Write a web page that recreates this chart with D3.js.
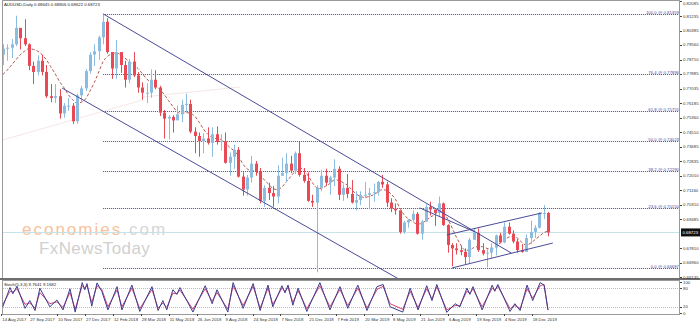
<!DOCTYPE html>
<html>
<head>
<meta charset="utf-8">
<script src="https://cdn.jsdelivr.net/npm/d3@7"></script>
<style>
  body { margin: 0; background: #fff; }
  svg { display: block; font-family: "Liberation Sans", Arial, sans-serif; }
</style>
</head>
<body>
<svg id="chart" width="700" height="326"></svg>
<script>
const firstOpen = 0.7900;
const weekHigh = [
  0.7960, 0.7960, 0.7990, 0.8125, 0.8035, 0.8105, 0.7965, 0.7860, 0.7895, 0.7900,
  0.7840, 0.7730, 0.7730, 0.7700, 0.7620, 0.7650, 0.7620, 0.7675, 0.7720, 0.7815,
  0.7915, 0.7960, 0.8010, 0.8135, 0.8110, 0.7915, 0.7985, 0.7915, 0.7865, 0.7875,
  0.7915, 0.7800, 0.7740, 0.7735, 0.7815, 0.7810, 0.7720, 0.7580, 0.7550, 0.7550,
  0.7605, 0.7640, 0.7675, 0.7640, 0.7480, 0.7450, 0.7445, 0.7480, 0.7480, 0.7485,
  0.7440, 0.7450, 0.7335, 0.7380, 0.7365, 0.7220, 0.7205, 0.7315, 0.7285, 0.7245,
  0.7145, 0.7160, 0.7140, 0.7260, 0.7305, 0.7330, 0.7315, 0.7340, 0.7395, 0.7245,
  0.7220, 0.7090, 0.7145, 0.7235, 0.7240, 0.7200, 0.7295, 0.7255, 0.7150, 0.7210,
  0.7175, 0.7110, 0.7110, 0.7165, 0.7130, 0.7155, 0.7170, 0.7205, 0.7165, 0.7070,
  0.7040, 0.6985, 0.6940, 0.6950, 0.7000, 0.6990, 0.6945, 0.7035, 0.7050, 0.7000,
  0.7080, 0.7045, 0.6920, 0.6810, 0.6810, 0.6795, 0.6780, 0.6840, 0.6895, 0.6895,
  0.6810, 0.6775, 0.6810, 0.6860, 0.6870, 0.6930, 0.6930, 0.6885, 0.6835, 0.6805,
  0.6860, 0.6940, 0.6915, 0.6990, 0.7030, 0.6990
];
const weekLow = [
  0.7840, 0.7865, 0.7880, 0.7950, 0.7930, 0.7950, 0.7810, 0.7730, 0.7780, 0.7780,
  0.7650, 0.7625, 0.7620, 0.7530, 0.7535, 0.7575, 0.7500, 0.7500, 0.7630, 0.7690,
  0.7790, 0.7835, 0.7870, 0.7960, 0.7905, 0.7760, 0.7760, 0.7795, 0.7710, 0.7735,
  0.7770, 0.7680, 0.7640, 0.7620, 0.7650, 0.7700, 0.7545, 0.7415, 0.7410, 0.7450,
  0.7530, 0.7510, 0.7570, 0.7445, 0.7330, 0.7310, 0.7330, 0.7380, 0.7310, 0.7380,
  0.7345, 0.7270, 0.7200, 0.7240, 0.7190, 0.7085, 0.7085, 0.7160, 0.7200, 0.7040,
  0.7020, 0.7060, 0.7020, 0.7040, 0.7200, 0.7165, 0.7215, 0.7210, 0.7195, 0.7160,
  0.7050, 0.7020, 0.6642, 0.7110, 0.7140, 0.7090, 0.7140, 0.7060, 0.7055, 0.7070,
  0.7040, 0.7000, 0.7030, 0.7070, 0.7005, 0.7050, 0.7085, 0.7130, 0.7020, 0.6990,
  0.6975, 0.6865, 0.6865, 0.6900, 0.6935, 0.6860, 0.6830, 0.6935, 0.6970, 0.6910,
  0.6965, 0.6910, 0.6755, 0.6677, 0.6745, 0.6740, 0.6690, 0.6690, 0.6830, 0.6760,
  0.6740, 0.6670, 0.6725, 0.6740, 0.6810, 0.6810, 0.6860, 0.6810, 0.6755, 0.6755,
  0.6760, 0.6805, 0.6840, 0.6895, 0.6950, 0.6850
];
const weekClose = [
  0.7935, 0.7940, 0.7960, 0.8055, 0.7995, 0.7960, 0.7835, 0.7800, 0.7865, 0.7800,
  0.7660, 0.7650, 0.7660, 0.7560, 0.7605, 0.7605, 0.7515, 0.7665, 0.7705, 0.7805,
  0.7900, 0.7920, 0.8000, 0.8090, 0.7915, 0.7820, 0.7915, 0.7840, 0.7755, 0.7860,
  0.7780, 0.7710, 0.7680, 0.7680, 0.7755, 0.7710, 0.7565, 0.7530, 0.7540, 0.7520,
  0.7555, 0.7610, 0.7615, 0.7455, 0.7430, 0.7400, 0.7415, 0.7390, 0.7440, 0.7395,
  0.7400, 0.7275, 0.7310, 0.7350, 0.7195, 0.7120, 0.7190, 0.7270, 0.7225, 0.7055,
  0.7130, 0.7100, 0.7080, 0.7200, 0.7215, 0.7270, 0.7230, 0.7330, 0.7205, 0.7170,
  0.7055, 0.7045, 0.7130, 0.7200, 0.7160, 0.7190, 0.7240, 0.7090, 0.7130, 0.7095,
  0.7045, 0.7060, 0.7090, 0.7090, 0.7100, 0.7105, 0.7165, 0.7150, 0.7045, 0.7010,
  0.7000, 0.6875, 0.6930, 0.6945, 0.6980, 0.6865, 0.6935, 0.7020, 0.7005, 0.6985,
  0.7040, 0.6915, 0.6800, 0.6780, 0.6770, 0.6760, 0.6730, 0.6830, 0.6870, 0.6770,
  0.6750, 0.6755, 0.6785, 0.6855, 0.6815, 0.6905, 0.6865, 0.6820, 0.6770, 0.6760,
  0.6840, 0.6875, 0.6900, 0.6985, 0.6985, 0.6872
];
// dashed moving average
const maValue = [
  0.7785, 0.7810, 0.7840, 0.7870, 0.7900, 0.7920, 0.7935, 0.7930, 0.7920, 0.7900,
  0.7870, 0.7830, 0.7790, 0.7745, 0.7710, 0.7670, 0.7640, 0.7620, 0.7625, 0.7645,
  0.7690, 0.7740, 0.7800, 0.7860, 0.7890, 0.7905, 0.7910, 0.7900, 0.7880, 0.7860,
  0.7840, 0.7820, 0.7790, 0.7760, 0.7740, 0.7725, 0.7700, 0.7670, 0.7635, 0.7600,
  0.7570, 0.7560, 0.7565, 0.7560, 0.7545, 0.7510, 0.7470, 0.7440, 0.7420, 0.7415,
  0.7410, 0.7390, 0.7365, 0.7345, 0.7315, 0.7270, 0.7240, 0.7230, 0.7225, 0.7205,
  0.7175, 0.7150, 0.7125, 0.7120, 0.7135, 0.7165, 0.7195, 0.7225, 0.7245, 0.7235,
  0.7200, 0.7160, 0.7130, 0.7125, 0.7140, 0.7155, 0.7175, 0.7175, 0.7160, 0.7145,
  0.7120, 0.7095, 0.7080, 0.7075, 0.7080, 0.7090, 0.7105, 0.7120, 0.7115, 0.7095,
  0.7065, 0.7015, 0.6975, 0.6950, 0.6935, 0.6920, 0.6925, 0.6940, 0.6960, 0.6975,
  0.6995, 0.6985, 0.6950, 0.6900, 0.6845, 0.6800, 0.6770, 0.6770, 0.6785, 0.6790,
  0.6790, 0.6780, 0.6775, 0.6790, 0.6810, 0.6830, 0.6845, 0.6850, 0.6840, 0.6815,
  0.6800, 0.6810, 0.6830, 0.6850, 0.6870, 0.6880
];

// fibonacci retracement (Jan 2018 high -> Aug 2019 low)
const fibRatio = ["100.0", "76.4", "61.8", "50.0", "38.2", "23.6", "0.0"];
const fibPrice = [0.81359, 0.77896, 0.75755, 0.74023, 0.72290, 0.70150, 0.66687];
const fibStartWeek = 23;

// hand drawn lines: [week, price] -> [week, price]
const trendLines = [
  { from: [23.0, 0.8136], to: [116.6, 0.6753] },
  { from: [13.6, 0.7707], to: [91.0, 0.6600] },
  { from: [95.6, 0.7014], to: [108.3, 0.6875] },
  { from: [101.8, 0.6858], to: [123.6, 0.6985] },
  { from: [103.0, 0.6667], to: [126.1, 0.6811] }
];
const faintLines = [
  { from: [0.0, 0.7407], to: [32.1, 0.7638] },
  { from: [32.1, 0.7655], to: [54.4, 0.7713] }
];

const lastPrice = 0.68723;
const priceTicks = [0.82085, 0.81235, 0.80385, 0.79560, 0.78710, 0.77885, 0.77035,
  0.76185, 0.75360, 0.74510, 0.73685, 0.72835, 0.72010, 0.71160, 0.70310,
  0.69485, 0.67810, 0.66960, 0.66135];

const dateLabels = ["14 Aug 2017", "27 Sep 2017", "10 Nov 2017", "27 Dec 2017",
  "12 Feb 2018", "28 Mar 2018", "11 May 2018", "26 Jun 2018", "9 Aug 2018",
  "24 Sep 2018", "7 Nov 2018", "21 Dec 2018", "7 Feb 2019", "20 Mar 2019",
  "8 May 2019", "21 Jun 2019", "6 Aug 2019", "19 Sep 2019", "4 Nov 2019", "18 Dec 2019"];
const dateLabelWeek = dateLabels.map((d, i) => i * 6.4 - 0.35);

// Stochastic(5,3,3): turning points, position in weeks
const stochWeek = [
  0, 1.65, 2.3, 3.26, 5.1, 6.2, 7.4, 8.5, 10.8, 12.4, 13.8, 15.4, 16.6, 18.2, 18.8,
  19.3, 20.4, 21.6, 22.7, 24.1, 26.2, 27.3, 29.6, 31.4, 34.2, 35.6, 36.7, 37.6, 39,
  39.9, 40.6, 43.6, 46.4, 48, 49.1, 51.6, 52.8, 55.1, 57.4, 59, 60.8, 61.9, 64, 64.7,
  65.4, 66.5, 67.7, 69.7, 72.7, 75, 77.3, 79.1, 81.4, 83.5, 85.8, 87.2, 88.8, 91.7,
  93.4, 95.2, 97.2, 98.4, 99.5, 101.8, 103.7, 104.8, 106.4, 107.1, 107.8, 109.9,
  112.2, 112.8, 113.5, 116.3, 117.4, 118.6, 120.2, 121.5, 123.2, 124.1, 125
];
const stochMain = [
  20, 82, 62, 86, 15, 40, 8, 80, 20, 42, 10, 78, 3, 98, 75,
  95, 22, 97, 70, 10, 85, 10, 90, 5, 85, 8, 40, 10, 75,
  60, 82, 3, 88, 30, 75, 3, 98, 15, 95, 8, 90, 20, 88, 65,
  90, 25, 80, 5, 98, 10, 85, 15, 90, 8, 85, 92, 20, 3,
  80, 10, 88, 40, 92, 2, 30, 20, 80, 60, 85, 10,
  90, 70, 92, 5, 30, 8, 90, 40, 98, 90, 10
];
const stochSignal = [
  28, 70, 68, 78, 28, 32, 16, 66, 30, 36, 18, 66, 12, 88, 80,
  88, 34, 88, 76, 20, 74, 20, 80, 14, 76, 16, 32, 18, 64,
  62, 74, 12, 78, 38, 66, 12, 88, 24, 86, 16, 80, 28, 80, 70,
  82, 34, 72, 14, 88, 20, 76, 24, 80, 16, 76, 86, 30, 12,
  70, 18, 78, 46, 84, 10, 24, 24, 70, 64, 78, 20,
  80, 74, 86, 14, 24, 14, 78, 48, 88, 92, 9
];
const stochLevels = [80, 20];
const stochAxis = [100, 80, 20, 0];

// ---- layout
const svg = d3.select("#chart");
const plotL = 2, plotR = 680;
const mainTop = 1, mainBottom = 278;
const subTop = 280, subBottom = 314;
const fs = 4.3;

const x = d3.scaleLinear().domain([0, 125]).range([2.8, 548]);
const y = d3.scaleLinear().domain([0.66135, 0.82085]).range([277.2, 1.3]);
const ys = d3.scaleLinear().domain([0, 100]).range([313, 282]);

const navy = "#4b4b98";
const bull = "#8cbde0";
const bear = "#e84a55";

svg.append("defs").append("clipPath").attr("id", "mainClip")
  .append("rect").attr("x", plotL).attr("y", mainTop)
  .attr("width", plotR - plotL).attr("height", mainBottom - mainTop);

const main = svg.append("g").attr("clip-path", "url(#mainClip)");

// watermark
const wm = main.append("g").attr("font-family", "'Liberation Sans', Arial, sans-serif");
const t1 = wm.append("text").attr("x", 22).attr("y", 234.5).attr("font-size", 17)
  .attr("letter-spacing", 2);
t1.append("tspan").attr("fill", "#f7c29c").text("economies");
t1.append("tspan").attr("fill", "#d6d6d6").text(".com");
wm.append("text").attr("x", 39).attr("y", 254).attr("font-size", 17)
  .attr("letter-spacing", 0.4).attr("fill", "#d0d0d0").text("FxNewsToday");

// current price line
main.append("line")
  .attr("x1", plotL).attr("x2", plotR)
  .attr("y1", y(lastPrice)).attr("y2", y(lastPrice))
  .attr("stroke", "#c4e0e8").attr("stroke-width", 1);

// faint helper lines
main.selectAll(".faint").data(faintLines).join("line")
  .attr("x1", d => x(d.from[0])).attr("y1", d => y(d.from[1]))
  .attr("x2", d => x(d.to[0])).attr("y2", d => y(d.to[1]))
  .attr("stroke", "#f6e6e6").attr("stroke-width", 1);

// fibo levels
main.selectAll(".fib").data(fibPrice).join("line")
  .attr("x1", x(fibStartWeek)).attr("x2", plotR - 1)
  .attr("y1", d => Math.round(y(d)) + 0.5).attr("y2", d => Math.round(y(d)) + 0.5)
  .attr("stroke", navy).attr("stroke-width", 1).attr("stroke-dasharray", "1,1");
main.selectAll(".fibLabel").data(fibPrice).join("text")
  .attr("x", plotR - 1).attr("y", d => Math.round(y(d)) - 0.3)
  .attr("text-anchor", "end").attr("font-size", fs).attr("fill", navy)
  .text((d, i) => `${fibRatio[i]} @ ${d.toFixed(5)}`);

// moving average
main.append("path")
  .datum(maValue)
  .attr("d", d3.line().x((d, i) => x(i)).y(d => y(d)).curve(d3.curveMonotoneX))
  .attr("fill", "none").attr("stroke", "#b5574d").attr("stroke-width", 1)
  .attr("stroke-dasharray", "3,2");

// candles
const candles = weekClose.map((c, i) => ({
  i, o: i === 0 ? firstOpen : weekClose[i - 1], h: weekHigh[i], l: weekLow[i], c
}));
const cg = main.append("g");
cg.selectAll(".wick").data(candles).join("line")
  .attr("x1", d => Math.round(x(d.i)) + 0.5).attr("x2", d => Math.round(x(d.i)) + 0.5)
  .attr("y1", d => y(d.h)).attr("y2", d => y(d.l))
  .attr("stroke", d => d.c >= d.o ? bull : bear).attr("stroke-width", 1);
cg.selectAll(".body").data(candles).join("rect")
  .attr("x", d => Math.round(x(d.i)) - 1)
  .attr("width", 3)
  .attr("y", d => y(Math.max(d.o, d.c)))
  .attr("height", d => Math.max(1, Math.abs(y(d.o) - y(d.c))))
  .attr("fill", d => d.c >= d.o ? bull : bear);

// trend channels
main.selectAll(".trend").data(trendLines).join("line")
  .attr("x1", d => x(d.from[0])).attr("y1", d => y(d.from[1]))
  .attr("x2", d => x(d.to[0])).attr("y2", d => y(d.to[1]))
  .attr("stroke", navy).attr("stroke-width", 1);

// title
svg.append("text").attr("x", 4).attr("y", 6).attr("font-size", fs).attr("fill", "#222")
  .text("AUDUSD,Daily  0.68645 0.68806 0.68622 0.68723");

// frames
svg.append("rect").attr("x", plotL + 0.5).attr("y", 0.5)
  .attr("width", plotR - plotL - 1).attr("height", mainBottom)
  .attr("fill", "none").attr("stroke", "#9a9a9a");
svg.append("line").attr("x1", 0).attr("x2", 700).attr("y1", 279).attr("y2", 279)
  .attr("stroke", "#6e6e6e").attr("stroke-width", 2);
svg.append("rect").attr("x", plotL + 0.5).attr("y", subTop + 0.5)
  .attr("width", plotR - plotL - 1).attr("height", subBottom - subTop)
  .attr("fill", "none").attr("stroke", "#9a9a9a");

// right price axis
const ax = svg.append("g");
ax.selectAll("line").data(priceTicks).join("line")
  .attr("x1", plotR).attr("x2", plotR + 2)
  .attr("y1", d => Math.round(y(d)) + 0.5).attr("y2", d => Math.round(y(d)) + 0.5)
  .attr("stroke", "#444");
ax.selectAll("text").data(priceTicks).join("text")
  .attr("x", plotR + 3).attr("y", d => Math.max(y(d), 3) + 1.5)
  .attr("font-size", fs).attr("fill", "#333")
  .text(d => d.toFixed(5));

// last price tag
svg.append("rect").attr("x", plotR + 1).attr("y", y(lastPrice) - 4)
  .attr("width", 19).attr("height", 8).attr("fill", "#111");
svg.append("text").attr("x", plotR + 2.5).attr("y", y(lastPrice) + 1.6)
  .attr("font-size", fs).attr("fill", "#fff").text(lastPrice.toFixed(5));

// stochastic pane
const sub = svg.append("g");
sub.selectAll(".lvl").data(stochLevels).join("line")
  .attr("x1", plotL + 1).attr("x2", plotR - 1)
  .attr("y1", d => Math.round(ys(d)) + 0.5).attr("y2", d => Math.round(ys(d)) + 0.5)
  .attr("stroke", "#bbb").attr("stroke-dasharray", "1,1");
const sLine = d3.line().x((d, i) => x(stochWeek[i])).y(d => ys(d));
sub.append("path").datum(stochSignal).attr("d", sLine)
  .attr("fill", "none").attr("stroke", "#d3457a").attr("stroke-width", 1);
sub.append("path").datum(stochMain).attr("d", sLine)
  .attr("fill", "none").attr("stroke", "#3c3c8c").attr("stroke-width", 1);
sub.append("text").attr("x", 4).attr("y", 285.5).attr("font-size", fs).attr("fill", "#222")
  .text("Stoch(5,3,3) 9.7641 9.1682");
sub.selectAll(".sax").data(stochAxis).join("text")
  .attr("x", plotR + 3).attr("y", d => ys(d) + 1.5)
  .attr("font-size", fs).attr("fill", "#333").text(d => d);
sub.selectAll(".stk").data(stochAxis).join("line")
  .attr("x1", plotR).attr("x2", plotR + 2)
  .attr("y1", d => Math.round(ys(d)) + 0.5).attr("y2", d => Math.round(ys(d)) + 0.5)
  .attr("stroke", "#444");

// date axis
const dx = svg.append("g");
dx.selectAll("line").data(dateLabelWeek).join("line")
  .attr("x1", d => Math.round(x(d)) + 0.5).attr("x2", d => Math.round(x(d)) + 0.5)
  .attr("y1", subBottom).attr("y2", subBottom + 2)
  .attr("stroke", "#444");
dx.selectAll("text").data(dateLabels).join("text")
  .attr("x", (d, i) => x(dateLabelWeek[i]) + 1).attr("y", 321)
  .attr("font-size", fs).attr("fill", "#333").text(d => d);
</script>
</body>
</html>
